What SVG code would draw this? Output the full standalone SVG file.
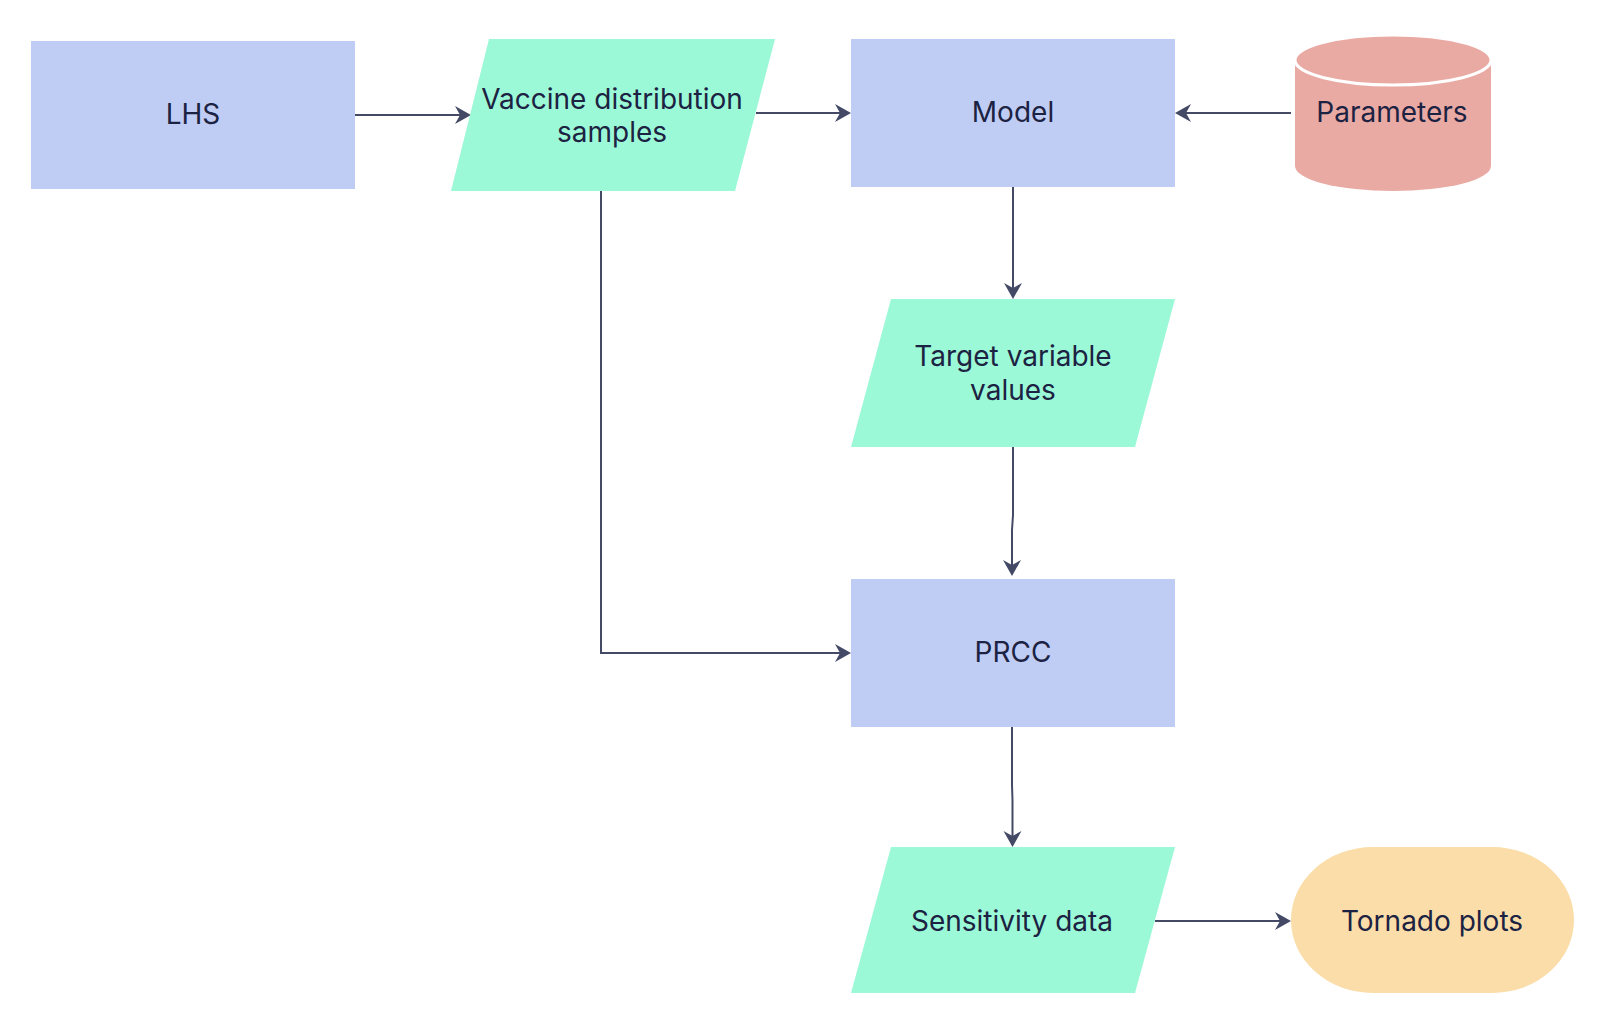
<svg xmlns="http://www.w3.org/2000/svg" width="1604" height="1024" viewBox="0 0 1604 1024">
<style>
.proc{fill:#BFCDF5}
.io{fill:#9CF9D7}
.db{fill:#EAAAA4}
.term{fill:#FADDA8}
.lbl{font-family:Inter,"Noto Sans","Liberation Sans",sans-serif;font-size:28px;fill:#1C2242;text-anchor:middle}
.conn{fill:none;stroke:#444A66;stroke-width:2;marker-end:url(#arrow)}
</style>
<defs>
<marker id="arrow" markerUnits="userSpaceOnUse" markerWidth="18" markerHeight="20" viewBox="0 0 18 20" refX="14" refY="9" orient="auto">
<path d="M0,0 L16,9 L0,18 L5,9 Z" fill="#444A66"/>
</marker>
</defs>
<rect width="1604" height="1024" fill="#FFFFFF"/>
<g id="connectors">
<path class="conn" d="M355,115 H469"/>
<path class="conn" d="M756,113 H849"/>
<path class="conn" d="M1291,113 H1177"/>
<path class="conn" d="M1013,187 V297"/>
<path class="conn" d="M1013,447 V515 L1012,530 V574"/>
<path class="conn" d="M601,191 V653 H849"/>
<path class="conn" d="M1012,727 V785 L1012.5,800 V845"/>
<path class="conn" d="M1155,921 H1289"/>
</g>
<g id="lhs">
<rect class="proc" x="31" y="41" width="324" height="148"/>
<text class="lbl" x="193" y="124">LHS</text>
</g>
<g id="vaccine">
<polygon class="io" points="489,39 775,39 735,191 451,191"/>
<text class="lbl" x="612" y="109">Vaccine distribution</text>
<text class="lbl" x="612" y="142">samples</text>
</g>
<g id="model">
<rect class="proc" x="851" y="39" width="324" height="148"/>
<text class="lbl" x="1013" y="122">Model</text>
</g>
<g id="parameters">
<path class="db" d="M1295,60 V166 A98,25 0 0 0 1491,166 V60 A98,25 0 0 0 1295,60 Z"/>
<ellipse class="db" cx="1393" cy="60" rx="98" ry="25" stroke="#FFFFFF" stroke-width="3"/>
<text class="lbl" x="1392" y="122">Parameters</text>
</g>
<g id="target">
<polygon class="io" points="891,299 1175,299 1135,447 851,447"/>
<text class="lbl" x="1013" y="366">Target variable</text>
<text class="lbl" x="1013" y="400">values</text>
</g>
<g id="prcc">
<rect class="proc" x="851" y="579" width="324" height="148"/>
<text class="lbl" x="1013" y="662">PRCC</text>
</g>
<g id="sensitivity">
<polygon class="io" points="891,847 1175,847 1135,993 851,993"/>
<text class="lbl" x="1012" y="931">Sensitivity data</text>
</g>
<g id="tornado">
<rect class="term" x="1291" y="847" width="283" height="146" rx="82" ry="73"/>
<text class="lbl" x="1432" y="931">Tornado plots</text>
</g>
</svg>
